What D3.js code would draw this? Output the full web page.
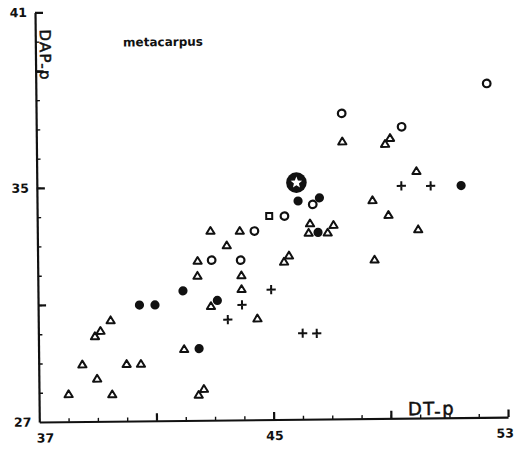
<!DOCTYPE html>
<html>
<head>
<meta charset="utf-8">
<script src="https://cdn.jsdelivr.net/npm/d3@7"></script>
<style>
  body { margin: 0; background: #fff; }
  svg { display: block; }
</style>
</head>
<body>
<svg></svg>
<script>
// values: [DT-p, DAP-p]
const openCircles = [
    [52.39, 38.41], [47.43, 37.44], [49.47, 36.96], [46.41, 34.34],
    [45.44, 33.95], [44.41, 33.45], [42.94, 32.47], [43.93, 32.46]
];
const filledCircles = [
    [51.48, 34.93], [45.91, 34.46], [46.64, 34.56], [46.58, 33.38], [41.95, 31.43],
    [43.12, 31.09], [40.46, 30.96], [40.99, 30.96], [42.48, 29.45]
];
const squares = [[44.92, 33.96]];
const stars = [[45.86, 35.09]];
const crosses = [
    [49.44, 34.94], [50.44, 34.93], [44.96, 31.44], [43.96, 30.93],
    [43.47, 30.43], [46.02, 29.94], [46.50, 29.93]
];
const triangles = [
    [47.44, 36.49], [48.90, 36.39], [49.07, 36.59], [49.96, 35.45], [48.45, 34.47],
    [48.99, 33.96], [46.31, 33.70], [47.11, 33.64], [46.26, 33.38], [46.91, 33.38],
    [50.00, 33.46], [42.91, 33.48], [43.91, 33.47], [43.46, 32.98], [42.46, 32.46],
    [45.58, 32.61], [45.41, 32.40], [48.50, 32.44], [42.45, 31.95], [43.95, 31.95],
    [43.95, 31.48], [42.90, 30.91], [44.48, 30.47], [39.47, 30.46], [39.12, 30.10],
    [38.93, 29.92], [41.97, 29.45], [38.49, 28.96], [40.00, 28.96], [40.49, 28.96],
    [38.99, 28.47], [38.01, 27.95], [39.50, 27.93], [42.45, 27.88], [42.63, 28.08]
];

const xMajorTicks = [41, 45, 49, 53];
const yMajorTicks = [31, 35, 39, 41];
const xTickLabels = [37, 45, 53];
const yTickLabels = [41, 35, 27];

const width = 515;
const height = 449;
const ink = "#111";

const svg = d3.select("svg")
    .attr("width", width)
    .attr("height", height);

svg.append("rect").attr("width", width).attr("height", height).attr("fill", "#fff");

const x = d3.scaleLinear().domain([37, 53]).range([39.3, 508.1]);
const y = d3.scaleLinear().domain([27, 41]).range([422, 12.4]);

// the page was scanned a little crooked
const plot = svg.append("g")
    .attr("transform", `rotate(-0.6, ${x(37)}, ${y(27)})`);

// axes, ticks pointing inwards
function styleAxis(g, w) {
    g.selectAll("path, line").attr("stroke", ink).attr("stroke-width", w);
    g.selectAll("text").remove();
}

plot.append("g")
    .attr("transform", `translate(0,${y(27)})`)
    .call(d3.axisBottom(x).tickValues(d3.range(38, 53)).tickSize(-3.5).tickSizeOuter(0))
    .call(g => { styleAxis(g, 1.4); g.select(".domain").remove(); });

plot.append("g")
    .attr("transform", `translate(${x(37)},0)`)
    .call(d3.axisLeft(y).tickValues(d3.range(28, 41)).tickSize(-4).tickSizeOuter(0))
    .call(g => { styleAxis(g, 1.4); g.select(".domain").remove(); });

plot.append("g")
    .attr("transform", `translate(0,${y(27)})`)
    .call(d3.axisBottom(x).tickValues(xMajorTicks).tickSize(-7.5).tickSizeOuter(0))
    .call(g => styleAxis(g, 2.2));

plot.append("g")
    .attr("transform", `translate(${x(37)},0)`)
    .call(d3.axisLeft(y).tickValues(yMajorTicks).tickSize(-8).tickSizeOuter(0))
    .call(g => styleAxis(g, 2.2));

// tick labels
const labelFont = "'DejaVu Sans', sans-serif";
const xLabelShift = { 37: 6, 45: 1, 53: -3 };

plot.selectAll("text.xtick")
    .data(xTickLabels)
    .enter().append("text")
    .attr("class", "xtick")
    .attr("x", d => x(d) + xLabelShift[d])
    .attr("y", y(27) + 16)
    .attr("dy", "0.36em")
    .attr("text-anchor", "middle")
    .style("font-family", labelFont)
    .style("font-weight", "bold")
    .style("font-size", "12.5px")
    .attr("fill", ink)
    .text(d => d);

plot.selectAll("text.ytick")
    .data(yTickLabels)
    .enter().append("text")
    .attr("class", "ytick")
    .attr("x", x(37) - 8)
    .attr("y", d => y(d))
    .attr("dy", "0.36em")
    .attr("text-anchor", "end")
    .style("font-family", labelFont)
    .style("font-weight", "bold")
    .style("font-size", "12.5px")
    .attr("fill", ink)
    .text(d => d);

// axis titles
const yTitle = plot.append("text")
    .attr("transform", `translate(${x(37) + 4.5},29.5) rotate(90)`)
    .style("font-family", labelFont)
    .style("font-size", "15px")
    .style("letter-spacing", "1.2px")
    .attr("fill", ink)
    .attr("stroke", ink)
    .attr("stroke-width", 0.5);
yTitle.append("tspan").text("DAP");
yTitle.append("tspan").attr("dy", 2).text("-");
yTitle.append("tspan").attr("dy", -2).text("p");

const xTitle = plot.append("text")
    .attr("x", 408)
    .attr("y", y(27) - 3)
    .style("font-family", labelFont)
    .style("font-size", "18px")
    .style("letter-spacing", "1.5px")
    .attr("fill", ink)
    .attr("stroke", ink)
    .attr("stroke-width", 0.5);
xTitle.append("tspan").text("DT");
xTitle.append("tspan").attr("dy", 3).text("-");
xTitle.append("tspan").attr("dy", -3).text("p");

plot.append("text")
    .attr("x", 127)
    .attr("y", 47.4)
    .style("font-family", labelFont)
    .style("font-weight", "bold")
    .style("font-size", "12px")
    .attr("fill", ink)
    .text("metacarpus");

// markers
const pos = d => `translate(${x(d[0])},${y(d[1])})`;

plot.selectAll("path.tri")
    .data(triangles)
    .enter().append("path")
    .attr("class", "tri")
    .attr("transform", pos)
    .attr("d", "M0,-3.6L4.1,3.2L-4.1,3.2Z")
    .attr("fill", "none")
    .attr("stroke", ink)
    .attr("stroke-width", 2)
    .attr("stroke-linejoin", "round");

plot.selectAll("path.cross")
    .data(crosses)
    .enter().append("path")
    .attr("class", "cross")
    .attr("transform", pos)
    .attr("d", "M-4.6,0H4.6M0,-4.6V4.6")
    .attr("stroke", ink)
    .attr("stroke-width", 2);

plot.selectAll("rect.sq")
    .data(squares)
    .enter().append("rect")
    .attr("class", "sq")
    .attr("x", d => x(d[0]) - 3)
    .attr("y", d => y(d[1]) - 3)
    .attr("width", 6)
    .attr("height", 6)
    .attr("fill", "none")
    .attr("stroke", ink)
    .attr("stroke-width", 2);

plot.selectAll("circle.open")
    .data(openCircles)
    .enter().append("circle")
    .attr("class", "open")
    .attr("cx", d => x(d[0]))
    .attr("cy", d => y(d[1]))
    .attr("r", 3.8)
    .attr("fill", "#fff")
    .attr("stroke", ink)
    .attr("stroke-width", 2.2);

plot.selectAll("circle.filled")
    .data(filledCircles)
    .enter().append("circle")
    .attr("class", "filled")
    .attr("cx", d => x(d[0]))
    .attr("cy", d => y(d[1]))
    .attr("r", 4.6)
    .attr("fill", ink);

function starPath(ro, ri) {
    const pts = d3.range(10).map(i => {
        const a = -Math.PI / 2 + i * Math.PI / 5;
        const r = i % 2 ? ri : ro;
        return [r * Math.cos(a), r * Math.sin(a)];
    });
    return "M" + pts.join("L") + "Z";
}

const starGroups = plot.selectAll("g.star")
    .data(stars)
    .enter().append("g")
    .attr("class", "star")
    .attr("transform", pos);
starGroups.append("circle").attr("r", 10.3).attr("fill", ink);
starGroups.append("path").attr("d", starPath(6, 2.6)).attr("fill", "#fff");
</script>
</body>
</html>
